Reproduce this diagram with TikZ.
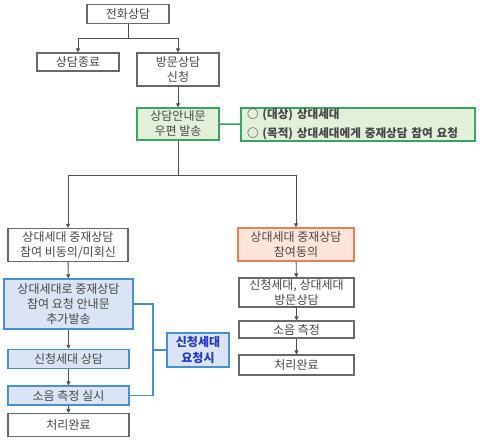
\documentclass[tikz,border=0pt]{standalone}
\usepackage{fontspec}
\setmainfont{Noto Sans CJK KR}
\usetikzlibrary{arrows.meta, positioning, calc}
\usepackage{xcolor}
\definecolor{linegray}{RGB}{80,80,80}
\definecolor{boxgray}{RGB}{105,105,105}
\definecolor{textgray}{RGB}{70,70,70}
\definecolor{mailgreen}{RGB}{55,165,95}
\definecolor{mailfill}{RGB}{226,240,218}
\definecolor{mainblue}{RGB}{70,145,210}
\definecolor{bluefill}{RGB}{218,228,244}
\definecolor{agreeorange}{RGB}{232,128,85}
\definecolor{orangefill}{RGB}{252,229,216}
\definecolor{reqblue}{RGB}{35,55,200}

\begin{document}
\begin{tikzpicture}[x=1pt, y=-1pt,
  every node/.style={font=\fontsize{12}{15}\selectfont, text=textgray, align=center, inner sep=0pt},
  graybox/.style={draw=boxgray, line width=1.2pt, fill=white},
  greenbox/.style={draw=mailgreen, line width=1.4pt, fill=mailfill},
  bluebox/.style={draw=mainblue, line width=1.4pt, fill=bluefill},
  orangebox/.style={draw=agreeorange, line width=1.4pt, fill=orangefill},
  arr/.style={-{Triangle[length=4pt, width=4pt]}, line width=0.9pt, draw=linegray},
  link/.style={line width=0.9pt, draw=linegray}]
\fill[white] (0,0) rectangle (480,442);
\useasboundingbox (0,0) rectangle (480,442);

% top part
\node[graybox, minimum width=82, minimum height=19] (call) at (128,14) {전화상담};
\node[graybox, minimum width=82, minimum height=18] (stop) at (78,62) {상담종료};
\node[graybox, minimum width=82, minimum height=33] (visit) at (178,69.5) {방문상담\\신청};
\node[greenbox, minimum width=82, minimum height=32] (mail) at (178,124) {상담안내문\\우편 발송};
\node[greenbox, minimum width=234, minimum height=33, text width=222, align=left,
      font=\fontsize{11.6}{19}\selectfont\bfseries] (note) at (358,124.5)
      {○ (대상) 상대세대\\○ (목적) 상대세대에게 중재상담 참여 요청};
\coordinate (split1) at (128,38);
\coordinate (split2) at (178,175);

% left branch
\node[graybox, minimum width=120, minimum height=33] (refuse) at (68,245) {상대세대 중재상담\\참여 비동의/미회신};
\node[bluebox, minimum width=129, minimum height=50] (resend) at (68.5,304) {상대세대로 중재상담\\참여 요청 안내문\\추가발송};
\node[bluebox, minimum width=121, minimum height=19] (counsel) at (68.5,359) {신청세대 상담};
\node[bluebox, minimum width=121, minimum height=19] (measureL) at (68.5,395.5) {소음 측정 실시};
\node[graybox, minimum width=121, minimum height=23] (doneL) at (68.5,425) {처리완료};
\node[bluebox, minimum width=62, minimum height=34, text=reqblue, font=\fontsize{12}{16}\selectfont\bfseries]
      (request) at (198,350) {신청세대\\요청시};
\coordinate (bracket) at (153,350);

% right branch
\node[orangebox, minimum width=116, minimum height=33] (agree) at (296,244.5) {상대세대 중재상담\\참여동의};
\node[graybox, minimum width=115, minimum height=29] (visitB) at (296.5,292.5) {신청세대, 상대세대\\방문상담};
\node[graybox, minimum width=115, minimum height=17] (measureR) at (296.5,329.5) {소음 측정};
\node[graybox, minimum width=115, minimum height=20] (doneR) at (296.5,365) {처리완료};

% connectors
\draw[link] (call) -- (split1);
\draw[arr] (split1) -| (stop);
\draw[arr] (split1) -| (visit);
\draw[arr] (visit) -- (mail);
\draw[link, draw=mailgreen, line width=1.4pt] (mail) -- (note);
\draw[link] (mail) -- (split2);
\draw[arr] (split2) -| (refuse);
\draw[arr] (split2) -| (agree);
\draw[arr] (refuse) -- (resend);
\draw[arr] (resend) -- (counsel);
\draw[arr] (counsel) -- (measureL);
\draw[arr] (measureL) -- (doneL);
\draw[link, draw=mainblue, line width=1.4pt] (resend.east) -| (bracket) |- (measureL.east);
\draw[link, draw=mainblue, line width=1.4pt] (bracket) -- (request);
\draw[arr] (agree) -- (visitB);
\draw[arr] (visitB) -- (measureR);
\draw[arr] (measureR) -- (doneR);
\end{tikzpicture}
\end{document}
